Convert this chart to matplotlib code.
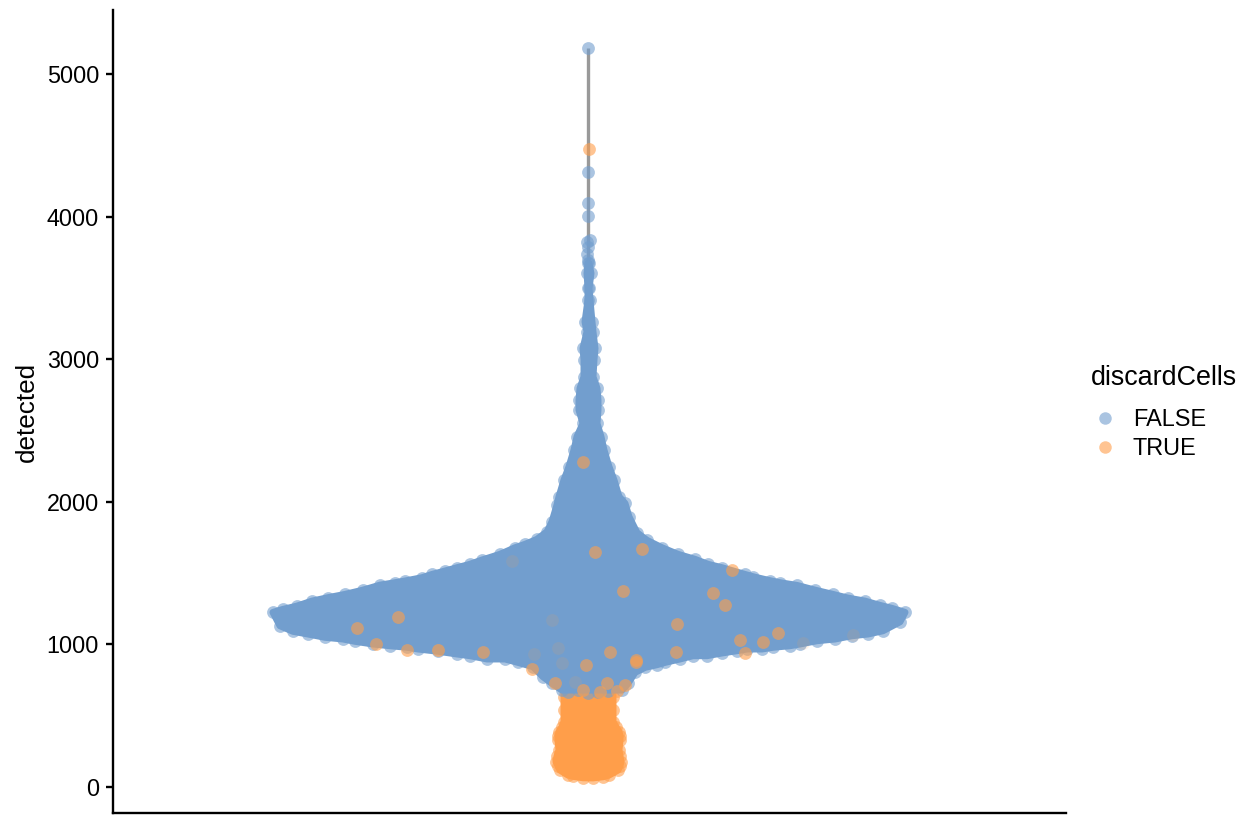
import matplotlib
matplotlib.use("Agg")
import matplotlib.pyplot as plt
from matplotlib.lines import Line2D

plt.rcParams["font.family"] = ["Liberation Sans", "DejaVu Sans"]

BLUE = "#729ECE"
ORANGE = "#FF9E4A"

# swarm offset (horizontal jitter) and detected value of the cells on the outline
left_offset = [-26, -36, -45, -55, -70, -83, -101, -118, -131, -150, -170, -181, -198, -215, -233,
               -245, -263, -280, -295, -308, -315, -305, -291, -276, -260, -243, -225, -208, -193,
               -183, -166, -156, -143, -131, -118, -106, -88, -73, -63, -51, -41, -36, -31, -29,
               -24, -19, -14, -11, -5, -9, -9, -8, -4, -4, -5, -1, -3, 0, 0, -1, 0]
left_detected = [680, 727, 774, 844, 874, 898, 898, 921, 933, 952, 968, 980, 991, 1003, 1022,
                 1038, 1050, 1073, 1092, 1131, 1225, 1246, 1269, 1304, 1328, 1351, 1381, 1416, 1433,
                 1445, 1468, 1491, 1515, 1538, 1562, 1592, 1632, 1678, 1702, 1737, 1790, 1860, 1978, 2036,
                 2153, 2246, 2363, 2457, 2550, 2644, 2714, 2796, 2877, 2995, 3076, 3193, 3263, 3415, 3497, 3602, 3672]
right_offset = [34, 40, 47, 57, 69, 77, 92, 105, 119, 134, 149, 159, 174, 185, 202,
                212, 229, 247, 264, 280, 295, 312, 317, 304, 292, 277, 260, 245, 227, 209, 192,
                182, 165, 157, 134, 120, 107, 90, 74, 59, 49, 41, 37, 31,
                26, 21, 16, 13, 9, 10, 10, 9, 5, 6, 7, 5, 4, 2, 1, 3, 1]
right_detected = [680, 727, 804, 839, 858, 874, 898, 921, 921, 940, 956, 968, 968, 980, 991,
                  1003, 1026, 1038, 1061, 1073, 1096, 1159, 1225, 1253, 1274, 1304, 1325, 1351, 1381, 1414, 1433,
                  1447, 1475, 1491, 1538, 1562, 1597, 1632, 1678, 1730, 1783, 1895, 1989, 2036,
                  2153, 2246, 2363, 2457, 2550, 2644, 2714, 2796, 2877, 2995, 3076, 3193, 3263, 3415, 3497, 3602, 3672]
bottom_offset = [-20, -10, 0, 10, 20]
bottom_detected = [670, 680, 660, 668, 675]

# the sparse cells on top of the violin
top_offset = [0, 0, 0, 0, 2, -1, 0, -1, 0]
top_detected = [5186, 4310, 4097, 4004, 3836, 3822, 3789, 3738, 3696]
top_discard_offset = [1]
top_discard_detected = [4471]

# discarded cells, low part
low_left_offset = [-24, -24, -24, -24, -26, -29, -30, -30, -29, -31, -32, -30, -28, -20, -15, -5]
low_left_detected = [700, 633, 540, 458, 420, 388, 360, 330, 259, 215, 178, 150, 119, 84, 75, 65]
low_right_offset = [5, 15, 21, 30, 32, 33, 32, 31, 32, 32, 31, 28, 25, 25, 25, 25]
low_right_detected = [64, 72, 84, 119, 150, 178, 215, 259, 330, 360, 388, 420, 458, 540, 633, 700]

# discarded cells sitting among the kept ones
discard_offset = [54, 144, 125, 137, 89, 35, 190, 152, 175, 48, 157, 22, 88, 7, -190, -231, -212,
                  -181, -105, -56, -33, -5, -2, 12, 29, 19, 37, 48, -150, -5]
discard_detected = [1669, 1522, 1358, 1276, 1141, 1376, 1077, 1031, 1017, 891, 942, 947, 949, 1650,
                    1190, 1113, 1003, 961, 949, 827, 731, 680, 856, 668, 675, 731, 715, 879, 961, 2281]
buried_offset = [265, 215, -150, -36, -76, -54, -30, -13, -26]
buried_detected = [1066, 1009, 961, 1171, 1585, 933, 975, 738, 867]

y_ticks = [0, 1000, 2000, 3000, 4000, 5000]
legend_labels = ["FALSE", "TRUE"]

fig = plt.figure(figsize=(12.48, 8.15), dpi=100)
ax = fig.add_axes([113 / 1248, 2 / 815, 953 / 1248, 803 / 815])

# grey violin is only a line here, it is so narrow
ax.plot([0, 0], [70, 5186], color="#999999", lw=2.4, zorder=1, solid_capstyle="butt")

pts = dict(s=85, linewidths=0, alpha=0.6)

# dense part of the swarm: stroke widens the body up to just inside the rim cells
ax.fill(low_left_offset + low_right_offset, low_left_detected + low_right_detected,
        color=ORANGE, lw=5, joinstyle="round", zorder=2)
ax.scatter(low_left_offset + low_right_offset, low_left_detected + low_right_detected, color=ORANGE, zorder=2, **pts)

ax.fill(left_offset + right_offset[::-1], left_detected + right_detected[::-1],
        color=BLUE, lw=5, joinstyle="round", zorder=3)
ax.scatter(left_offset, left_detected, color=BLUE, zorder=3, **pts)
ax.scatter(right_offset, right_detected, color=BLUE, zorder=3, **pts)
ax.scatter(bottom_offset, bottom_detected, color=BLUE, zorder=3, **pts)
ax.scatter(top_offset, top_detected, color=BLUE, zorder=3, **pts)

ax.scatter(discard_offset, discard_detected, color=ORANGE, zorder=4, **pts)
ax.scatter(top_discard_offset, top_discard_detected, color=ORANGE, zorder=4, **pts)
ax.scatter(buried_offset, buried_detected, color=ORANGE, s=85, linewidths=0, alpha=0.12, zorder=4)

ax.set_xlim(-475, 478)
ax.set_ylim(-182, 5449)
ax.set_xticks([])
ax.set_yticks(y_ticks)
ax.tick_params(axis="y", labelsize=16.8, length=5, width=1.7, pad=5)
ax.set_ylabel("detected", fontsize=18.8, labelpad=6)
for side in ["top", "right"]:
    ax.spines[side].set_visible(False)
for side in ["left", "bottom"]:
    ax.spines[side].set_linewidth(1.7)

handles = [Line2D([], [], marker="o", ls="", color=c, alpha=0.6, markersize=9, markeredgewidth=0)
           for c in [BLUE, ORANGE]]
leg = fig.legend(handles, legend_labels, title="discardCells", loc="upper left",
                 bbox_to_anchor=(1070 / 1248, 1 - 344 / 815), frameon=False, fontsize=16.9,
                 title_fontsize=19.4, labelspacing=0.255, handlelength=1.2, handletextpad=0.58, alignment="left")
leg._legend_box.sep = 12

fig.savefig("out.png", dpi=100)
